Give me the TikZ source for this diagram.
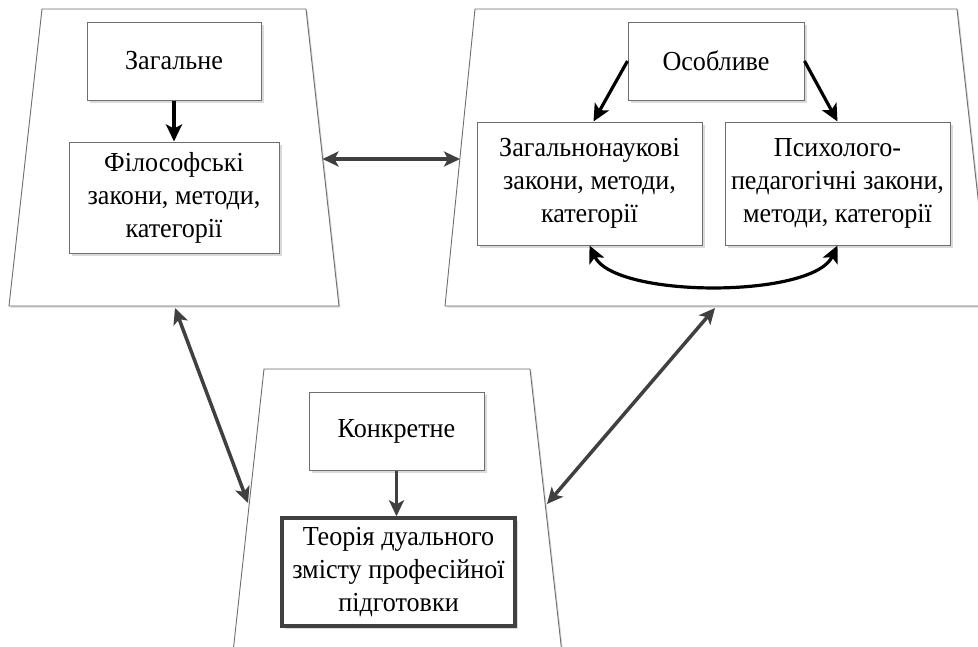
\documentclass[tikz,border=0pt]{standalone}
\usepackage{fontspec}
\setmainfont[FakeStretch=0.95]{Liberation Serif}
\usetikzlibrary{arrows.meta,shadows}
\definecolor{edgegray}{HTML}{6E6E6E}
\definecolor{linkgray}{HTML}{404040}
\definecolor{shade}{HTML}{DADADA}
\begin{document}
\begin{tikzpicture}[x=1pt,y=-1pt,
  frame/.style={draw=edgegray, line width=0.9pt, fill=white,
    drop shadow={shadow xshift=1.5pt, shadow yshift=-1.5pt, fill=shade, opacity=1}},
  box/.style={draw=edgegray, line width=1pt, fill=white, align=center,
    inner sep=0pt, font=\fontsize{27.5}{33}\selectfont,
    drop shadow={shadow xshift=2.5pt, shadow yshift=-2.5pt, fill=shade, opacity=1}},
  keybox/.style={box, draw=linkgray, line width=3.5pt},
  blk/.style={-{Stealth[length=17pt, width=16pt, inset=4pt]}, line width=3.2pt, black},
  blkboth/.style={{Stealth[length=17pt, width=16pt, inset=4pt]}-{Stealth[length=17pt, width=16pt, inset=4pt]},
    line width=3.2pt, black},
  gry/.style={-{Stealth[length=16pt, width=15pt, inset=4pt]}, line width=3.2pt, linkgray},
  both/.style={{Stealth[length=16pt, width=15pt, inset=4pt]}-{Stealth[length=16pt, width=15pt, inset=4pt]},
    line width=3.5pt, linkgray},
]
\useasboundingbox (0,0) rectangle (978,646);
\clip (0,0) rectangle (978,646);

% three frames: general, particular, concrete
\draw[frame] (42,9) -- (306,9) -- (339,306) -- (9,306) -- cycle;
\draw[frame] (475,9) -- (957,9) -- (990,306) -- (445,306) -- cycle;
\draw[frame] (264,369) -- (530,369) -- (565,680) -- (230,680) -- cycle;

% general
\node[box, minimum width=174pt, minimum height=78pt] (zag) at (174,61) {Загальне};
\node[box, minimum width=210pt, minimum height=111pt] (fil) at (174,197.5)
  {Філософські\\закони, методи,\\категорії};

% particular
\node[box, minimum width=176pt, minimum height=78pt] (osob) at (716,61) {Особливе};
\node[box, minimum width=225pt, minimum height=123pt] (zagn) at (589.5,183.5)
  {Загальнонаукові\\закони, методи,\\категорії};
\node[box, minimum width=225pt, minimum height=123pt] (psy) at (837.5,183.5)
  {Психолого-\\педагогічні закони,\\методи, категорії};

% concrete
\node[box, minimum width=175pt, minimum height=78pt] (konk) at (396.5,431) {Конкретне};
\node[keybox, minimum width=233pt, minimum height=108pt] (teor) at (398.5,572)
  {Теорія дуального\\змісту професійної\\підготовки};

% links inside the frames
\draw[blk] (zag) -- (fil);
\draw[blk] (osob.west) -- ([xshift=4pt]zagn.north);
\draw[blk] (osob.east) -- (psy.north);
\draw[blkboth] (zagn.south) .. controls +(25,53) and +(-25,53) .. (psy.south);
\draw[gry] (konk.south) -- (konk.south |- teor.north);

% links between the frames
\coordinate (genR) at (322.5,159);
\coordinate (parL) at (460,159);
\coordinate (genB) at (175,308);
\coordinate (conL) at (248,503);
\coordinate (parB) at (715,308);
\coordinate (conR) at (547,504);
\draw[both] (genR) -- (parL);
\draw[both] (genB) -- (conL);
\draw[both] (parB) -- (conR);
\end{tikzpicture}
\end{document}
